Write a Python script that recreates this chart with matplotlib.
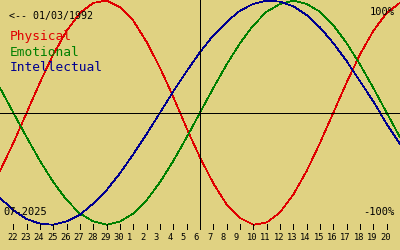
import matplotlib
matplotlib.use("Agg")
import matplotlib.pyplot as plt

# days shown: 21 Jun .. 21 Jul 2025, one point per day
day_labels = ["22", "23", "24", "25", "26", "27", "28", "29", "30",
              "1", "2", "3", "4", "5", "6", "7", "8", "9", "10",
              "11", "12", "13", "14", "15", "16", "17", "18", "19", "20"]

physical = [-0.52, -0.27, 0.00, 0.27, 0.52, 0.73, 0.89, 0.98, 1.00, 0.94,
            0.82, 0.63, 0.40, 0.14, -0.14, -0.40, -0.63, -0.82, -0.94, -1.00,
            -0.98, -0.89, -0.73, -0.52, -0.27, 0.00, 0.27, 0.52, 0.73, 0.89, 0.98]
emotional = [0.22, 0.00, -0.22, -0.43, -0.62, -0.78, -0.90, -0.97, -1.00, -0.97,
             -0.90, -0.78, -0.62, -0.43, -0.22, 0.00, 0.22, 0.43, 0.62, 0.78,
             0.90, 0.97, 1.00, 0.97, 0.90, 0.78, 0.62, 0.43, 0.22, 0.00, -0.22]
intellectual = [-0.76, -0.87, -0.95, -0.99, -1.00, -0.97, -0.91, -0.81, -0.69, -0.54,
                -0.37, -0.19, 0.00, 0.19, 0.37, 0.54, 0.69, 0.81, 0.91, 0.97,
                1.00, 0.99, 0.95, 0.87, 0.76, 0.62, 0.46, 0.28, 0.10, -0.10, -0.28]

today = 15  # 6 July
bg = "#e0d282"
mono = "DejaVu Sans Mono"
lw = 0.72  # one pixel
clw = 0.5  # curves, aliased

fig = plt.figure(figsize=(4, 2.5), dpi=100, facecolor=bg)
ax = fig.add_axes([0, 0, 1, 1])
ax.set_facecolor(bg)
ax.set_xlim(0, 30)
ax.set_ylim(-1.225, 1.005)
ax.axis("off")

days = list(range(len(physical)))
ax.plot(days, physical, color="#e00000", lw=clw, antialiased=False)
ax.plot(days, emotional, color="#008000", lw=clw, antialiased=False)
ax.plot(days, intellectual, color="#000090", lw=clw, antialiased=False)

ax.axhline(0, color="black", lw=lw, antialiased=False)
ax.plot([today, today], [-1.04, 1.005], color="black", lw=lw, antialiased=False)

for i, lab in enumerate(day_labels):
    d = i + 1
    ax.plot([d, d], [-0.995, -1.04], color="black", lw=lw, antialiased=False)
    ax.text(d - 0.47, -1.115, lab, fontsize=6.3, family=mono, ha="left", va="center")

ax.text(0.7, 0.86, "<-- 01/03/1992", fontsize=7.2, family=mono, va="center")
ax.text(0.7, 0.675, "Physical", fontsize=9.3, family=mono, color="#e00000", va="center")
ax.text(0.7, 0.535, "Emotional", fontsize=9.3, family=mono, color="#008000", va="center")
ax.text(0.7, 0.40, "Intellectual", fontsize=9.3, family=mono, color="#000090", va="center")

ax.text(29.6, 0.90, "100%", fontsize=7.5, family=mono, ha="right", va="center")
ax.text(29.6, -0.885, "-100%", fontsize=7.5, family=mono, ha="right", va="center")
ax.text(0.25, -0.885, "07-2025", fontsize=7.5, family=mono, ha="left", va="center")

fig.savefig("out.png", dpi=100, facecolor=bg)
